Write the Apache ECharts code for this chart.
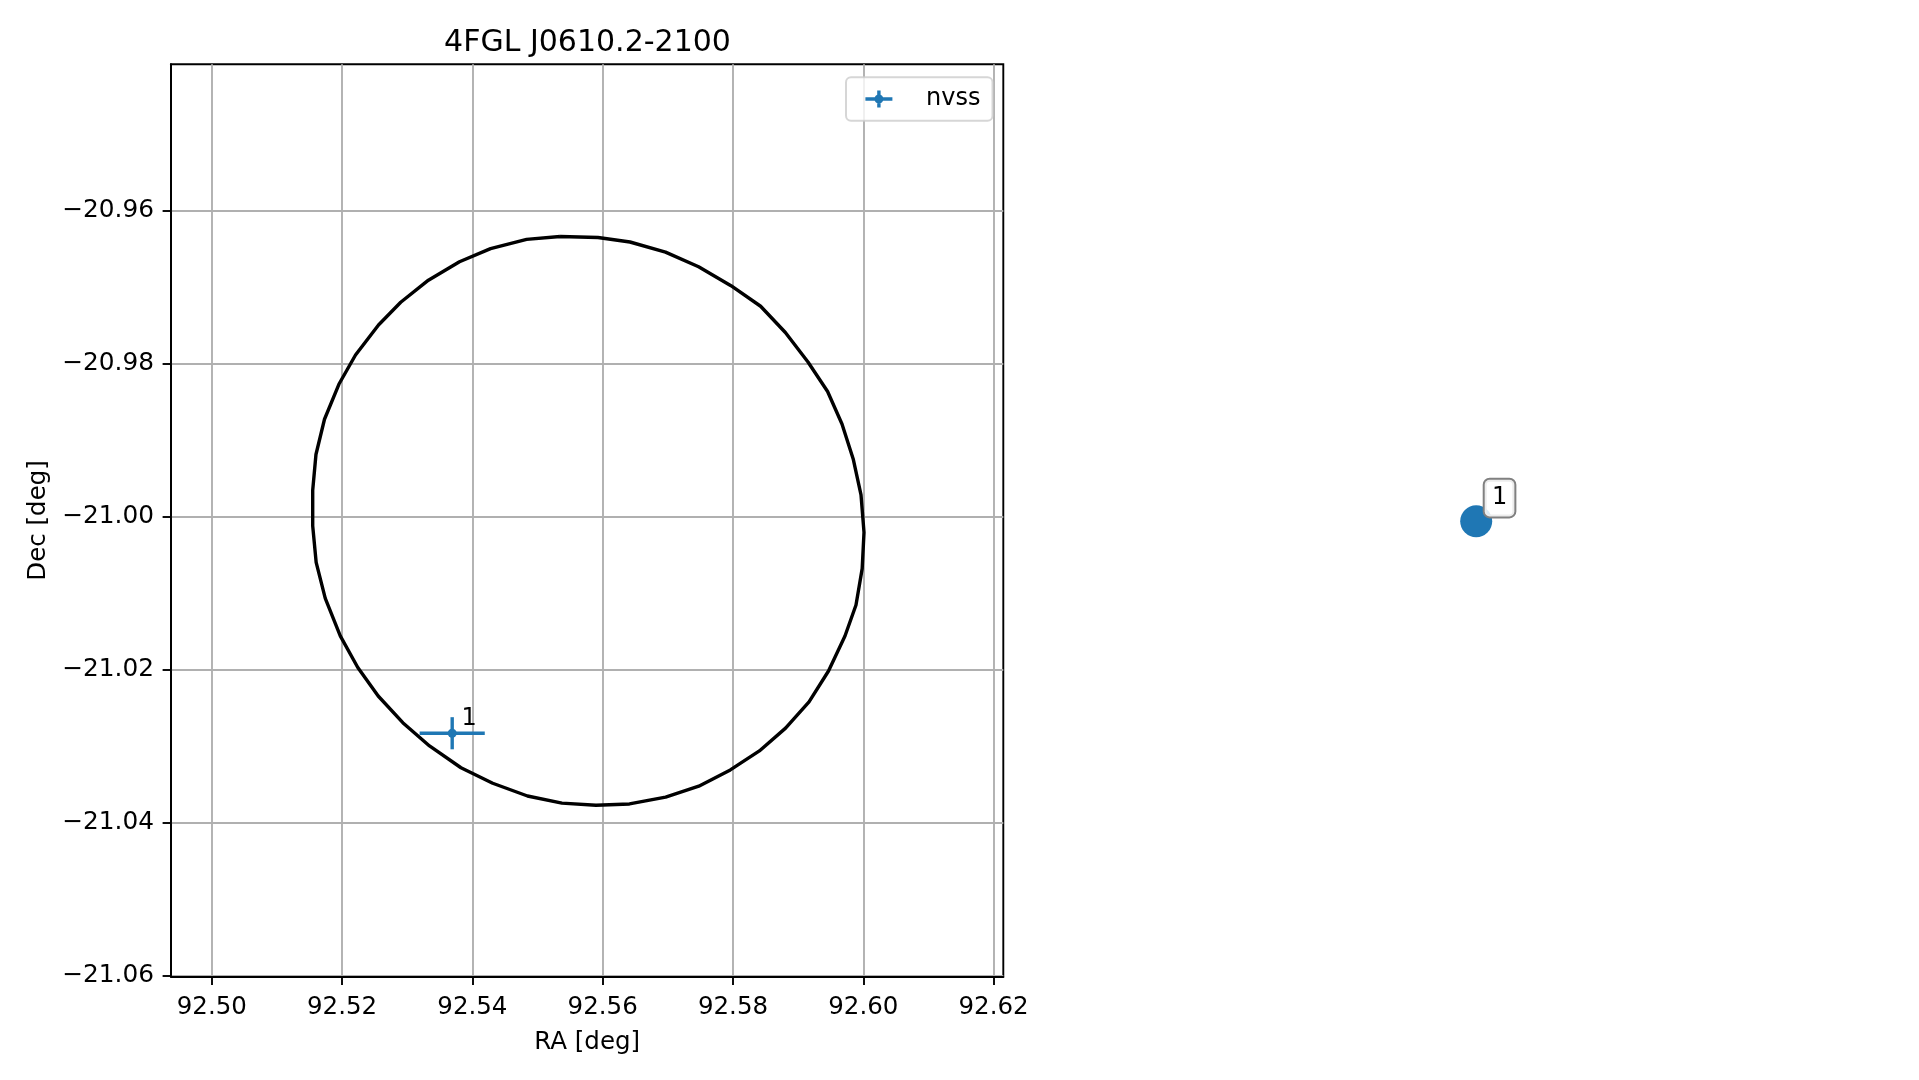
<!DOCTYPE html>
<html>
<head>
<meta charset="utf-8">
<script src="https://cdn.jsdelivr.net/npm/echarts@6/dist/echarts.min.js"></script>
<style>
html,body{margin:0;padding:0;background:#ffffff;}
#chart{width:1919px;height:1080px;}
</style>
</head>
<body>
<div id="chart"></div>
<script>
// ---- data ----
const titleText = '4FGL J0610.2-2100';
const xName = 'RA [deg]';
const yName = 'Dec [deg]';

// localisation contour (RA, Dec vertices)
const circleRa = [92.55345, 92.55928, 92.56419, 92.56964, 92.57472, 92.57969, 92.58424, 92.58804, 92.59151, 92.59452, 92.59673, 92.59845, 92.59965, 92.60011, 92.59983, 92.59888, 92.59719, 92.59466, 92.59167, 92.58807, 92.58405, 92.57959, 92.57475, 92.56966, 92.56411, 92.55897, 92.55375, 92.54846, 92.54312, 92.53825, 92.53342, 92.52932, 92.52554, 92.52241, 92.51972, 92.51742, 92.51602, 92.51549, 92.51549, 92.51599, 92.51730, 92.51951, 92.52206, 92.52559, 92.52900, 92.53325, 92.53802, 92.54279, 92.54832];
const circleDec = [-20.96336, -20.96349, -20.96408, -20.96541, -20.96732, -20.96979, -20.97248, -20.97591, -20.97976, -20.98362, -20.98787, -20.99244, -20.99715, -21.00205, -21.00678, -21.01153, -21.01558, -21.02016, -21.02421, -21.02763, -21.03061, -21.03309, -21.03522, -21.03665, -21.03754, -21.03771, -21.03744, -21.03650, -21.03484, -21.03281, -21.02996, -21.02692, -21.02343, -21.01970, -21.01558, -21.01067, -21.00597, -21.00120, -20.99656, -20.99186, -20.98725, -20.98268, -20.97885, -20.97493, -20.97196, -20.96907, -20.96667, -20.96495, -20.96374];

// nvss source with error bars
const nvssName = 'nvss';
const nvssRa = [92.5369];
const nvssDec = [-21.0283];
const nvssRaErr = [0.0050];
const nvssDecErr = [0.0021];
const nvssLabels = ['1'];

// axis ticks
const xTicks = [92.50, 92.52, 92.54, 92.56, 92.58, 92.60, 92.62];
const yTicks = [-21.06, -21.04, -21.02, -21.00, -20.98, -20.96];
const xMin = 92.49374, xMax = 92.62149;
const yMin = -21.0601, yMax = -20.94085;

// right-hand panel (axes hidden)
const panelX = [0];
const panelY = [0];
const panelLabels = ['1'];

// ---- chart ----
const FONT = 'DejaVu Sans';
const BLUE = '#1f77b4';
const fmt = v => v.toFixed(2).replace('-', '\u2212');

const circleData = circleRa.map((r, i) => [r, circleDec[i]]);
circleData.push([circleRa[0], circleDec[0]]);

const chart = echarts.init(document.getElementById('chart'), null, {renderer: 'canvas'});

const option = {
  animation: false,
  backgroundColor: '#ffffff',
  title: {
    text: titleText,
    left: 587.5,
    top: 28,
    padding: 0,
    textAlign: 'center',
    textVerticalAlign: 'top',
    textStyle: {fontSize: 30, fontWeight: 'normal', color: '#000', fontFamily: FONT, lineHeight: 30}
  },
  legend: {
    data: [{name: nvssName, icon: 'path://M0,6.8L27,6.8L27,10.2L0,10.2Z M11.8,0L15.2,0L15.2,17L11.8,17Z M9,8.5A4.5,4.5 0 1 1 18,8.5A4.5,4.5 0 1 1 9,8.5Z'}],
    left: 846,
    top: 77.3,
    orient: 'horizontal',
    padding: [9.7, 12, 9.7, 19.4],
    itemWidth: 84.4,
    itemHeight: 17,
    backgroundColor: 'rgba(255,255,255,0.8)',
    borderColor: 'rgba(204,204,204,0.8)',
    borderWidth: 2,
    borderRadius: 5,
    selectedMode: false,
    textStyle: {fontSize: 24, color: '#000', fontFamily: FONT, lineHeight: 24}
  },
  grid: [
    {left: 171, top: 64.3, width: 832.3, height: 912.2, show: true, borderColor: '#000', borderWidth: 1.9, backgroundColor: 'transparent', containLabel: false},
    {left: 1126.2, top: 65, width: 700, height: 912.4, show: false, containLabel: false}
  ],
  xAxis: [
    {
      type: 'value', gridIndex: 0, min: xMin, max: xMax, splitNumber: 6,
      name: xName, nameLocation: 'middle', nameGap: 54,
      nameTextStyle: {fontSize: 24.5, color: '#000', fontFamily: FONT, lineHeight: 24},
      axisLine: {show: true, onZero: false, lineStyle: {color: '#000', width: 1.9}},
      axisTick: {show: true, inside: false, length: 8.4, customValues: xTicks, lineStyle: {color: '#000', width: 1.9}},
      axisLabel: {show: true, customValues: xTicks, margin: 19, formatter: fmt, fontSize: 24.5, color: '#000', fontFamily: FONT, lineHeight: 24},
      splitLine: {show: true, lineStyle: {color: '#b0b0b0', width: 1.9}}
    },
    {type: 'value', gridIndex: 1, min: -1, max: 1, show: false, splitLine: {show: false}}
  ],
  yAxis: [
    {
      type: 'value', gridIndex: 0, min: yMin, max: yMax, splitNumber: 5,
      name: yName, nameLocation: 'middle', nameGap: 120.5, nameRotate: 90,
      nameTextStyle: {fontSize: 24.5, color: '#000', fontFamily: FONT, lineHeight: 24},
      axisLine: {show: true, onZero: false, lineStyle: {color: '#000', width: 1.9}},
      axisTick: {show: true, inside: false, length: 8.4, customValues: yTicks, lineStyle: {color: '#000', width: 1.9}},
      axisLabel: {show: true, customValues: yTicks, margin: 17, formatter: fmt, fontSize: 24.8, color: '#000', fontFamily: FONT, lineHeight: 24},
      splitLine: {show: true, lineStyle: {color: '#b0b0b0', width: 1.9}}
    },
    {type: 'value', gridIndex: 1, min: -1, max: 1, show: false, splitLine: {show: false}}
  ],
  series: [
    {
      type: 'line', name: 'contour', xAxisIndex: 0, yAxisIndex: 0,
      data: circleData, showSymbol: false, symbol: 'none', smooth: false,
      lineStyle: {color: '#000', width: 3.4}, itemStyle: {color: '#000'},
      silent: true, z: 3
    },
    {
      type: 'custom', name: nvssName, xAxisIndex: 0, yAxisIndex: 0,
      data: nvssRa.map((r, i) => [r, nvssDec[i], nvssRaErr[i], nvssDecErr[i]]),
      encode: {x: 0, y: 1},
      itemStyle: {color: BLUE},
      z: 4,
      renderItem: function (params, api) {
        const x = api.value(0), y = api.value(1), ex = api.value(2), ey = api.value(3);
        const c = api.coord([x, y]);
        const l = api.coord([x - ex, y]);
        const r = api.coord([x + ex, y]);
        const t = api.coord([x, y + ey]);
        const b = api.coord([x, y - ey]);
        return {
          type: 'group',
          children: [
            {type: 'line', shape: {x1: l[0], y1: l[1], x2: r[0], y2: r[1]}, style: {stroke: BLUE, lineWidth: 3.4}},
            {type: 'line', shape: {x1: t[0], y1: t[1], x2: b[0], y2: b[1]}, style: {stroke: BLUE, lineWidth: 3.4}},
            {type: 'circle', shape: {cx: c[0], cy: c[1], r: 4.5}, style: {fill: BLUE}},
            {type: 'text', x: c[0] + 9.3, y: c[1] - 14.6,
             style: {text: nvssLabels[params.dataIndex], fill: '#000', fontSize: 24, fontFamily: FONT, align: 'left', verticalAlign: 'middle'}}
          ]
        };
      }
    },
    {
      type: 'scatter', name: 'panel', xAxisIndex: 1, yAxisIndex: 1,
      data: panelX.map((v, i) => [v, panelY[i]]),
      symbol: 'circle', symbolSize: 32,
      itemStyle: {color: BLUE, opacity: 1},
      silent: true,
      label: {
        show: true,
        formatter: p => panelLabels[p.dataIndex],
        position: [24.5, -25.5],
        fontSize: 24, fontFamily: FONT, color: '#000', lineHeight: 24,
        backgroundColor: 'rgba(255,255,255,0.85)',
        borderColor: '#808080', borderWidth: 2, borderRadius: 5,
        padding: [6.35, 7.2]
      }
    }
  ]
};
chart.setOption(option);
</script>
</body>
</html>
